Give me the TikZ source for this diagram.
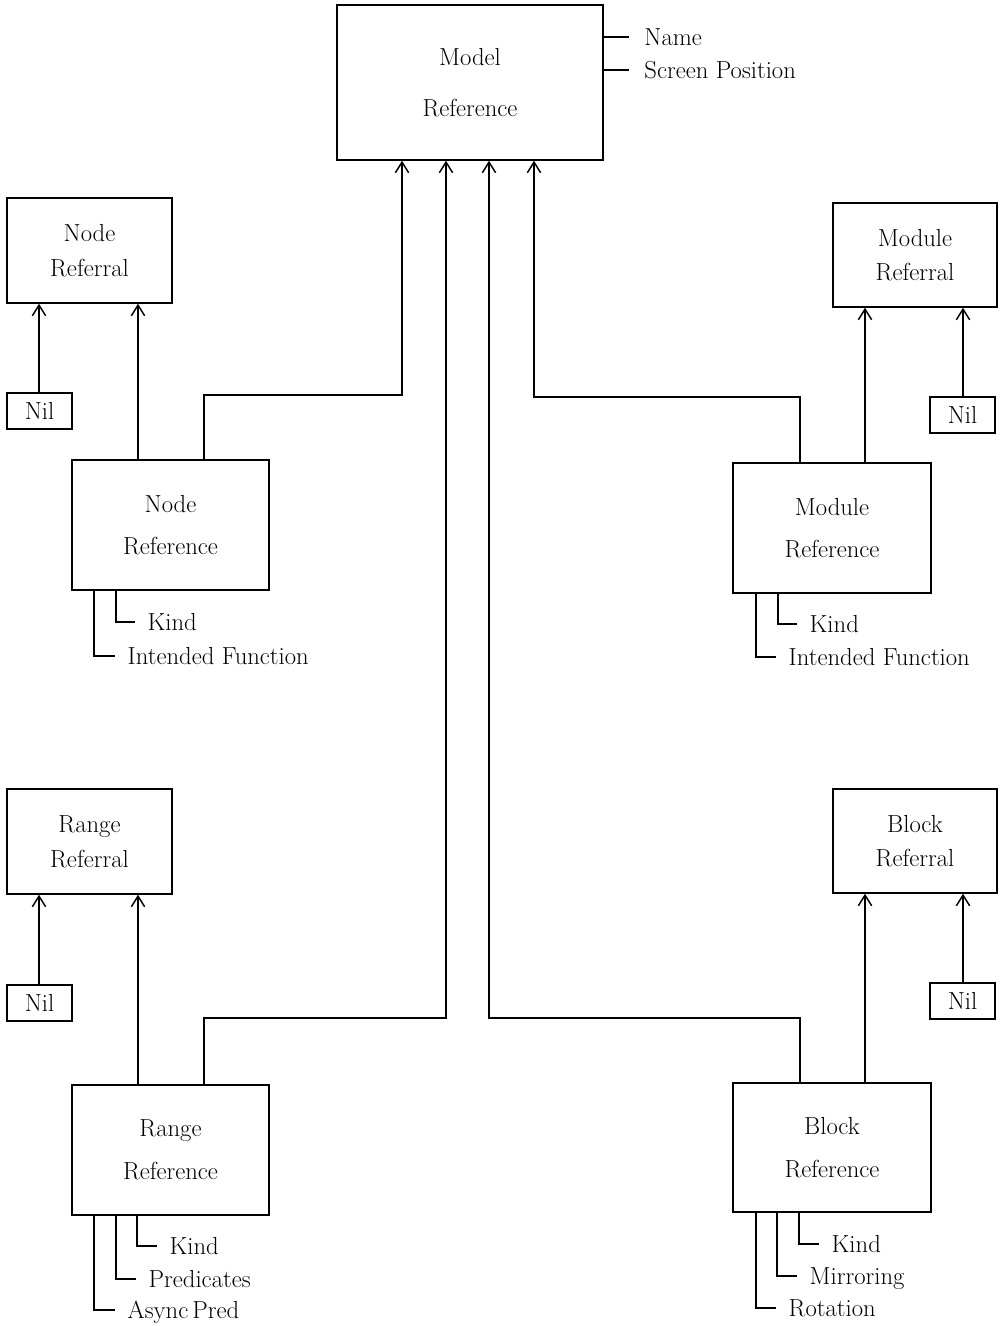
\documentclass[tikz,border=0pt]{standalone}
\usepackage{fontspec}
\usetikzlibrary{arrows.meta}
\begin{document}
\begin{tikzpicture}[x=0.75pt,y=-0.75pt,
  line width=1.1pt,
  every node/.style={font=\fontsize{18.5}{22}\selectfont},
  box/.style 2 args={draw, rectangle, align=center, inner sep=0pt,
    minimum width=#1*0.75pt, minimum height=#2*0.75pt},
  attr/.style={anchor=west, inner xsep=9pt, inner ysep=0pt,
    text height=12.6pt, text depth=0pt},
  arr/.style={-{Straight Barb[length=8pt,width=10pt]}}]
\useasboundingbox (0,0) rectangle (1000,1326);

% central record
\node[box={266}{155}] (model) at (470,82.5) {Model\\[16pt]Reference};
\node[attr, inner xsep=11pt] (mName) at (629,37) {Name};
\node[attr, inner xsep=11pt] (mPos) at (629,70) {Screen Position};
\draw (model.east |- mName.west) -- (mName.west);
\draw (model.east |- mPos.west) -- (mPos.west);

% node branch
\node[box={165}{105}] (nodeRefl) at (89.5,250.5) {Node\\[4pt]Referral};
\node[box={65}{36}] (nilA) at (39.5,411) {Nil};
\node[box={197}{130}] (nodeRef) at (170.5,525) {Node\\[10pt]Reference};
\draw[arr] (39,0 |- nilA.north) -- (39,0 |- nodeRefl.south);
\draw[arr] (138,0 |- nodeRef.north) -- (138,0 |- nodeRefl.south);
\node[attr] (nrKind) at (135,622) {Kind};
\node[attr] (nrFun) at (115,656) {Intended Function};
\draw (116,0 |- nodeRef.south) |- (nrKind.west);
\draw (94,0 |- nodeRef.south) |- (nrFun.west);

% module branch
\node[box={164}{104}] (modRefl) at (915,255) {Module\\[4pt]Referral};
\node[box={65}{36}] (nilB) at (962.5,415) {Nil};
\node[box={198}{130}] (modRef) at (832,528) {Module\\[10pt]Reference};
\draw[arr] (963,0 |- nilB.north) -- (963,0 |- modRefl.south);
\draw[arr] (865,0 |- modRef.north) -- (865,0 |- modRefl.south);
\node[attr] (mrKind) at (797,624) {Kind};
\node[attr] (mrFun) at (776,657) {Intended Function};
\draw (778,0 |- modRef.south) |- (mrKind.west);
\draw (756,0 |- modRef.south) |- (mrFun.west);

% range branch
\node[box={165}{105}] (rangeRefl) at (89.5,841.5) {Range\\[4pt]Referral};
\node[box={65}{36}] (nilC) at (39.5,1003) {Nil};
\node[box={197}{130}] (rangeRef) at (170.5,1150) {Range\\[10pt]Reference};
\draw[arr] (39,0 |- nilC.north) -- (39,0 |- rangeRefl.south);
\draw[arr] (138,0 |- rangeRef.north) -- (138,0 |- rangeRefl.south);
\node[attr] (rrKind) at (157,1246) {Kind};
\node[attr] (rrPred) at (136,1279) {Predicates};
\node[attr] (rrAsync) at (115,1310) {Async\,Pred};
\draw (137,0 |- rangeRef.south) |- (rrKind.west);
\draw (116,0 |- rangeRef.south) |- (rrPred.west);
\draw (94,0 |- rangeRef.south) |- (rrAsync.west);

% block branch
\node[box={164}{104}] (blockRefl) at (915,841) {Block\\[4pt]Referral};
\node[box={65}{36}] (nilD) at (962.5,1001) {Nil};
\node[box={198}{129}] (blockRef) at (832,1147.5) {Block\\[10pt]Reference};
\draw[arr] (963,0 |- nilD.north) -- (963,0 |- blockRefl.south);
\draw[arr] (865,0 |- blockRef.north) -- (865,0 |- blockRefl.south);
\node[attr] (brKind) at (819,1244) {Kind};
\node[attr] (brMirr) at (797,1276) {Mirroring};
\node[attr] (brRot) at (776,1308) {Rotation};
\draw (799,0 |- blockRef.south) |- (brKind.west);
\draw (777,0 |- blockRef.south) |- (brMirr.west);
\draw (756,0 |- blockRef.south) |- (brRot.west);

% references up to the central record
\draw[arr] (204,0 |- nodeRef.north) -- (204,395) -- (402,395) -- (402,0 |- model.south);
\draw[arr] (204,0 |- rangeRef.north) -- (204,1018) -- (446,1018) -- (446,0 |- model.south);
\draw[arr] (800,0 |- blockRef.north) -- (800,1018) -- (489,1018) -- (489,0 |- model.south);
\draw[arr] (800,0 |- modRef.north) -- (800,397) -- (534,397) -- (534,0 |- model.south);
\end{tikzpicture}
\end{document}
